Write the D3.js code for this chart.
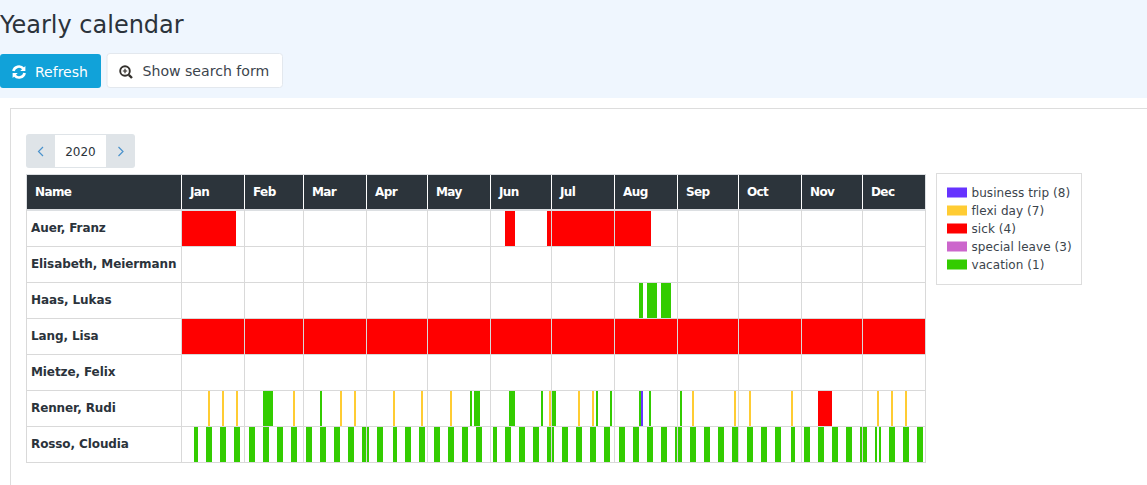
<!DOCTYPE html>
<html>
<head>
<meta charset="utf-8">
<title>Yearly calendar</title>
<script src="https://cdn.jsdelivr.net/npm/d3@7"></script>
<style>
  html, body { margin: 0; padding: 0; background: #fff; overflow: hidden; }
  svg { display: block; }
  text { font-family: "DejaVu Sans", sans-serif; }
</style>
</head>
<body>
<div id="chart"></div>
<script>
const year = 2020
const months = ["Jan", "Feb", "Mar", "Apr", "May", "Jun", "Jul", "Aug", "Sep", "Oct", "Nov", "Dec"]
const people = ["Auer, Franz", "Elisabeth, Meiermann", "Haas, Lukas", "Lang, Lisa", "Mietze, Felix", "Renner, Rudi", "Rosso, Cloudia"]

const legendLabels = ["business trip (8)", "flexi day (7)", "sick (4)", "special leave (3)", "vacation (1)"]
const legendTypes = ["trip", "flexi", "sick", "special", "vacation"]
const legendColors = ["#6633ff", "#ffcc33", "#ff0000", "#cc66cc", "#33cc00"]

// [type, first day, last day] as mm-dd
const auer = [
  ["sick", "01-01", "01-27"], ["sick", "06-08", "06-12"], ["sick", "06-29", "08-18"]
]
const haas = [
  ["vacation", "08-13", "08-14"], ["vacation", "08-17", "08-21"], ["vacation", "08-24", "08-28"]
]
const lang = [["sick", "01-01", "12-31"]]
const renner = [
  ["flexi", "01-14", "01-14"], ["flexi", "01-21", "01-21"], ["flexi", "01-28", "01-28"],
  ["vacation", "02-10", "02-14"], ["flexi", "02-25", "02-25"],
  ["vacation", "03-09", "03-09"], ["flexi", "03-19", "03-19"], ["flexi", "03-26", "03-26"],
  ["flexi", "04-14", "04-14"], ["flexi", "04-28", "04-28"],
  ["flexi", "05-12", "05-12"], ["vacation", "05-22", "05-22"], ["vacation", "05-24", "05-26"],
  ["vacation", "06-10", "06-12"], ["vacation", "06-26", "06-26"], ["flexi", "06-30", "06-30"],
  ["vacation", "07-01", "07-02"], ["flexi", "07-14", "07-14"], ["flexi", "07-21", "07-21"],
  ["vacation", "07-23", "07-23"], ["vacation", "07-30", "07-30"],
  ["vacation", "08-13", "08-13"], ["trip", "08-14", "08-14"], ["vacation", "08-18", "08-18"],
  ["vacation", "09-02", "09-02"], ["flexi", "09-08", "09-08"], ["flexi", "09-29", "09-29"],
  ["flexi", "10-06", "10-06"], ["flexi", "10-27", "10-27"],
  ["sick", "11-09", "11-15"],
  ["flexi", "12-08", "12-08"], ["flexi", "12-15", "12-15"], ["flexi", "12-22", "12-22"]
]
const rossoVacation = [
  ["01-07", "01-08"], ["01-13", "01-15"], ["01-20", "01-22"], ["01-27", "01-29"],
  ["02-03", "02-05"], ["02-10", "02-12"], ["02-17", "02-19"], ["02-24", "02-26"],
  ["03-02", "03-04"], ["03-09", "03-11"], ["03-16", "03-18"], ["03-23", "03-25"], ["03-30", "04-01"],
  ["04-06", "04-08"], ["04-14", "04-15"], ["04-20", "04-22"], ["04-27", "04-29"],
  ["05-04", "05-06"], ["05-11", "05-13"], ["05-18", "05-20"], ["05-25", "05-27"],
  ["06-02", "06-03"], ["06-08", "06-10"], ["06-15", "06-17"], ["06-22", "06-24"], ["06-29", "07-01"],
  ["07-06", "07-08"], ["07-13", "07-15"], ["07-20", "07-22"], ["07-27", "07-29"],
  ["08-03", "08-05"], ["08-10", "08-12"], ["08-17", "08-19"], ["08-24", "08-26"], ["08-31", "09-02"],
  ["09-07", "09-09"], ["09-14", "09-16"], ["09-21", "09-23"], ["09-28", "09-30"],
  ["10-05", "10-07"], ["10-12", "10-14"], ["10-19", "10-21"], ["10-27", "10-28"],
  ["11-02", "11-04"], ["11-09", "11-11"], ["11-16", "11-18"], ["11-23", "11-25"], ["11-30", "12-02"],
  ["12-07", "12-07"], ["12-09", "12-09"], ["12-14", "12-16"], ["12-21", "12-23"], ["12-28", "12-30"]
]

const absences = [
  { person: "Auer, Franz", items: auer },
  { person: "Haas, Lukas", items: haas },
  { person: "Lang, Lisa", items: lang },
  { person: "Renner, Rudi", items: renner },
  { person: "Rosso, Cloudia", items: rossoVacation.map(d => ["vacation", d[0], d[1]]) }
]

const width = 1147
const height = 485
const textColor = "#2b333b"
const gridColor = "#d9d9d9"

const svg = d3.select("#chart").append("svg")
  .attr("width", width)
  .attr("height", height)

// page chrome
svg.append("rect").attr("width", width).attr("height", 98).attr("fill", "#eff6fe")
svg.append("rect")
  .attr("x", 10.5).attr("y", 108.5).attr("width", width).attr("height", height)
  .attr("fill", "#fff").attr("stroke", "#dddddd")

svg.append("text").attr("x", 0).attr("y", 33)
  .attr("font-size", 24).attr("fill", textColor).text("Yearly calendar")

svg.append("rect").attr("x", 0).attr("y", 54).attr("width", 101).attr("height", 34).attr("rx", 3)
  .attr("fill", "#11a2d9")
svg.append("text").attr("x", 35).attr("y", 76.5).attr("font-size", 14).attr("fill", "#fff").text("Refresh")

// refresh icon
const refresh = svg.append("g").attr("transform", "translate(19,72) scale(1.22)")
  .attr("fill", "none").attr("stroke", "#fff").attr("stroke-width", 2.2)
refresh.append("path").attr("d", "M-4.6,-0.8 A4.7,4.7 0 0 1 3.6,-2.8")
refresh.append("path").attr("d", "M4.6,0.8 A4.7,4.7 0 0 1 -3.6,2.8")
refresh.append("path").attr("d", "M5.2,-5 V-0.8 H1 Z").attr("fill", "#fff").attr("stroke", "none")
refresh.append("path").attr("d", "M-5.2,5 V0.8 H-1 Z").attr("fill", "#fff").attr("stroke", "none")

svg.append("rect").attr("x", 107).attr("y", 53.5).attr("width", 175.5).attr("height", 34).attr("rx", 3)
  .attr("fill", "#fff").attr("stroke", "#e3e8ee")
svg.append("text").attr("x", 142.5).attr("y", 76).attr("font-size", 14.1).attr("fill", "#3b444c").text("Show search form")

// search icon
const lens = svg.append("g").attr("transform", "translate(125,71)")
  .attr("fill", "none").attr("stroke", "#33302c")
lens.append("circle").attr("r", 4.8).attr("stroke-width", 1.9)
lens.append("path").attr("d", "M3.8,3.8 L7,7").attr("stroke-width", 2.4)
lens.append("path").attr("d", "M-2.2,0 H2.2 M0,-2.2 V2.2").attr("stroke-width", 1.2)

// year switcher
svg.append("rect").attr("x", 26).attr("y", 134).attr("width", 109).attr("height", 34).attr("rx", 3)
  .attr("fill", "#dfe4e8")
svg.append("rect").attr("x", 55).attr("y", 135).attr("width", 51).attr("height", 32).attr("fill", "#fff")
svg.append("text").attr("x", 80.5).attr("y", 156).attr("text-anchor", "middle")
  .attr("font-size", 12).attr("fill", textColor).text(year)
svg.append("path").attr("d", "M43,147 L38.5,151.5 L43,156")
  .attr("fill", "none").attr("stroke", "#4a92cc").attr("stroke-width", 1.2)
svg.append("path").attr("d", "M118.5,147 L123,151.5 L118.5,156")
  .attr("fill", "none").attr("stroke", "#4a92cc").attr("stroke-width", 1.2)

// scales: 2px per day, plus one px of border between months
const calendarLeft = 182
const gridTop = 210
const rowStep = 36
const gridRight = 925

const dayScale = d3.scaleUtc()
  .domain([new Date(Date.UTC(year, 0, 1)), new Date(Date.UTC(year + 1, 0, 1))])
  .range([calendarLeft, calendarLeft + 732])

const monthStarts = d3.utcMonth.range(new Date(Date.UTC(year, 0, 1)), new Date(Date.UTC(year + 1, 0, 1)))
const dateX = date => dayScale(date) + date.getUTCMonth()
const parseDay = d3.utcParse("%Y-%m-%d")
const toDate = md => parseDay(`${year}-${md}`)

const rowScale = d3.scaleBand()
  .domain(people)
  .range([gridTop, gridTop + rowStep * people.length])

const colorScale = d3.scaleOrdinal().domain(legendTypes).range(legendColors)

// header
svg.append("rect").attr("x", 26.5).attr("y", 174.5).attr("width", gridRight - 26).attr("height", 35)
  .attr("fill", "#2c343b").attr("stroke", "#dcdfe2")

// rows
const rows = svg.append("g")
rows.selectAll("line")
  .data(people)
  .enter().append("line")
    .attr("x1", 26)
    .attr("x2", gridRight + 1)
    .attr("y1", d => rowScale(d) + rowStep + 0.5)
    .attr("y2", d => rowScale(d) + rowStep + 0.5)
    .attr("stroke", gridColor)

svg.append("rect").attr("x", 26).attr("y", 209).attr("width", gridRight - 25).attr("height", 2)
  .attr("fill", "#dcdfe2")

// absences
const bars = absences.flatMap(row => row.items.map(item => ({
  person: row.person,
  type: item[0],
  from: toDate(item[1]),
  to: d3.utcDay.offset(toDate(item[2]), 1),
  last: toDate(item[2])
})))

svg.append("g").selectAll("rect")
  .data(bars)
  .enter().append("rect")
    .attr("x", d => dateX(d.from))
    .attr("y", d => rowScale(d.person) + 1)
    .attr("width", d => dayScale(d.to) + d.last.getUTCMonth() - dateX(d.from))
    .attr("height", rowStep - 1)
    .attr("fill", d => colorScale(d.type))

// month borders
const borders = [...monthStarts, null]
svg.append("g").selectAll("line.grid")
  .data(borders)
  .enter().append("line")
    .attr("class", "grid")
    .attr("x1", d => d ? dateX(d) - 0.5 : gridRight + 0.5)
    .attr("x2", d => d ? dateX(d) - 0.5 : gridRight + 0.5)
    .attr("y1", gridTop)
    .attr("y2", gridTop + rowStep * people.length + 1)
    .attr("stroke", gridColor)

svg.append("line").attr("x1", 26.5).attr("x2", 26.5)
  .attr("y1", gridTop).attr("y2", gridTop + rowStep * people.length + 1)
  .attr("stroke", gridColor)

// white separators in the header
svg.append("g").selectAll("line.sep")
  .data(monthStarts)
  .enter().append("line")
    .attr("class", "sep")
    .attr("x1", d => dateX(d) - 0.5)
    .attr("x2", d => dateX(d) - 0.5)
    .attr("y1", 175)
    .attr("y2", 209)
    .attr("stroke", "#fff")

// labels
svg.append("text").attr("x", 35).attr("y", 196).attr("font-size", 12).attr("font-weight", "bold")
  .attr("letter-spacing", -0.6).attr("fill", "#fff").text("Name")

svg.append("g").selectAll("text")
  .data(monthStarts)
  .enter().append("text")
    .attr("x", d => dateX(d) + 8)
    .attr("y", 196)
    .attr("font-size", 12)
    .attr("font-weight", "bold")
    .attr("letter-spacing", -0.6)
    .attr("fill", "#fff")
    .text((d, i) => months[i])

svg.append("g").selectAll("text")
  .data(people)
  .enter().append("text")
    .attr("x", 31)
    .attr("y", d => rowScale(d) + 22)
    .attr("font-size", 12)
    .attr("font-weight", "bold")
    .attr("letter-spacing", -0.1)
    .attr("fill", textColor)
    .text(d => d)

// legend
svg.append("rect").attr("x", 936.5).attr("y", 173.5).attr("width", 145).attr("height", 111)
  .attr("fill", "#fff").attr("stroke", "#dddddd")

const legendScale = d3.scalePoint().domain(legendLabels).range([192.5, 264.5])
const legend = svg.append("g").selectAll("g")
  .data(legendLabels)
  .enter().append("g")
    .attr("transform", d => `translate(947,${legendScale(d)})`)
legend.append("rect")
  .attr("y", -5).attr("width", 20).attr("height", 10)
  .attr("fill", (d, i) => legendColors[i])
legend.append("text")
  .attr("x", 24.5).attr("y", 4.5).attr("font-size", 12).attr("letter-spacing", 0.07).attr("fill", "#3b444c")
  .text(d => d)
</script>
</body>
</html>
